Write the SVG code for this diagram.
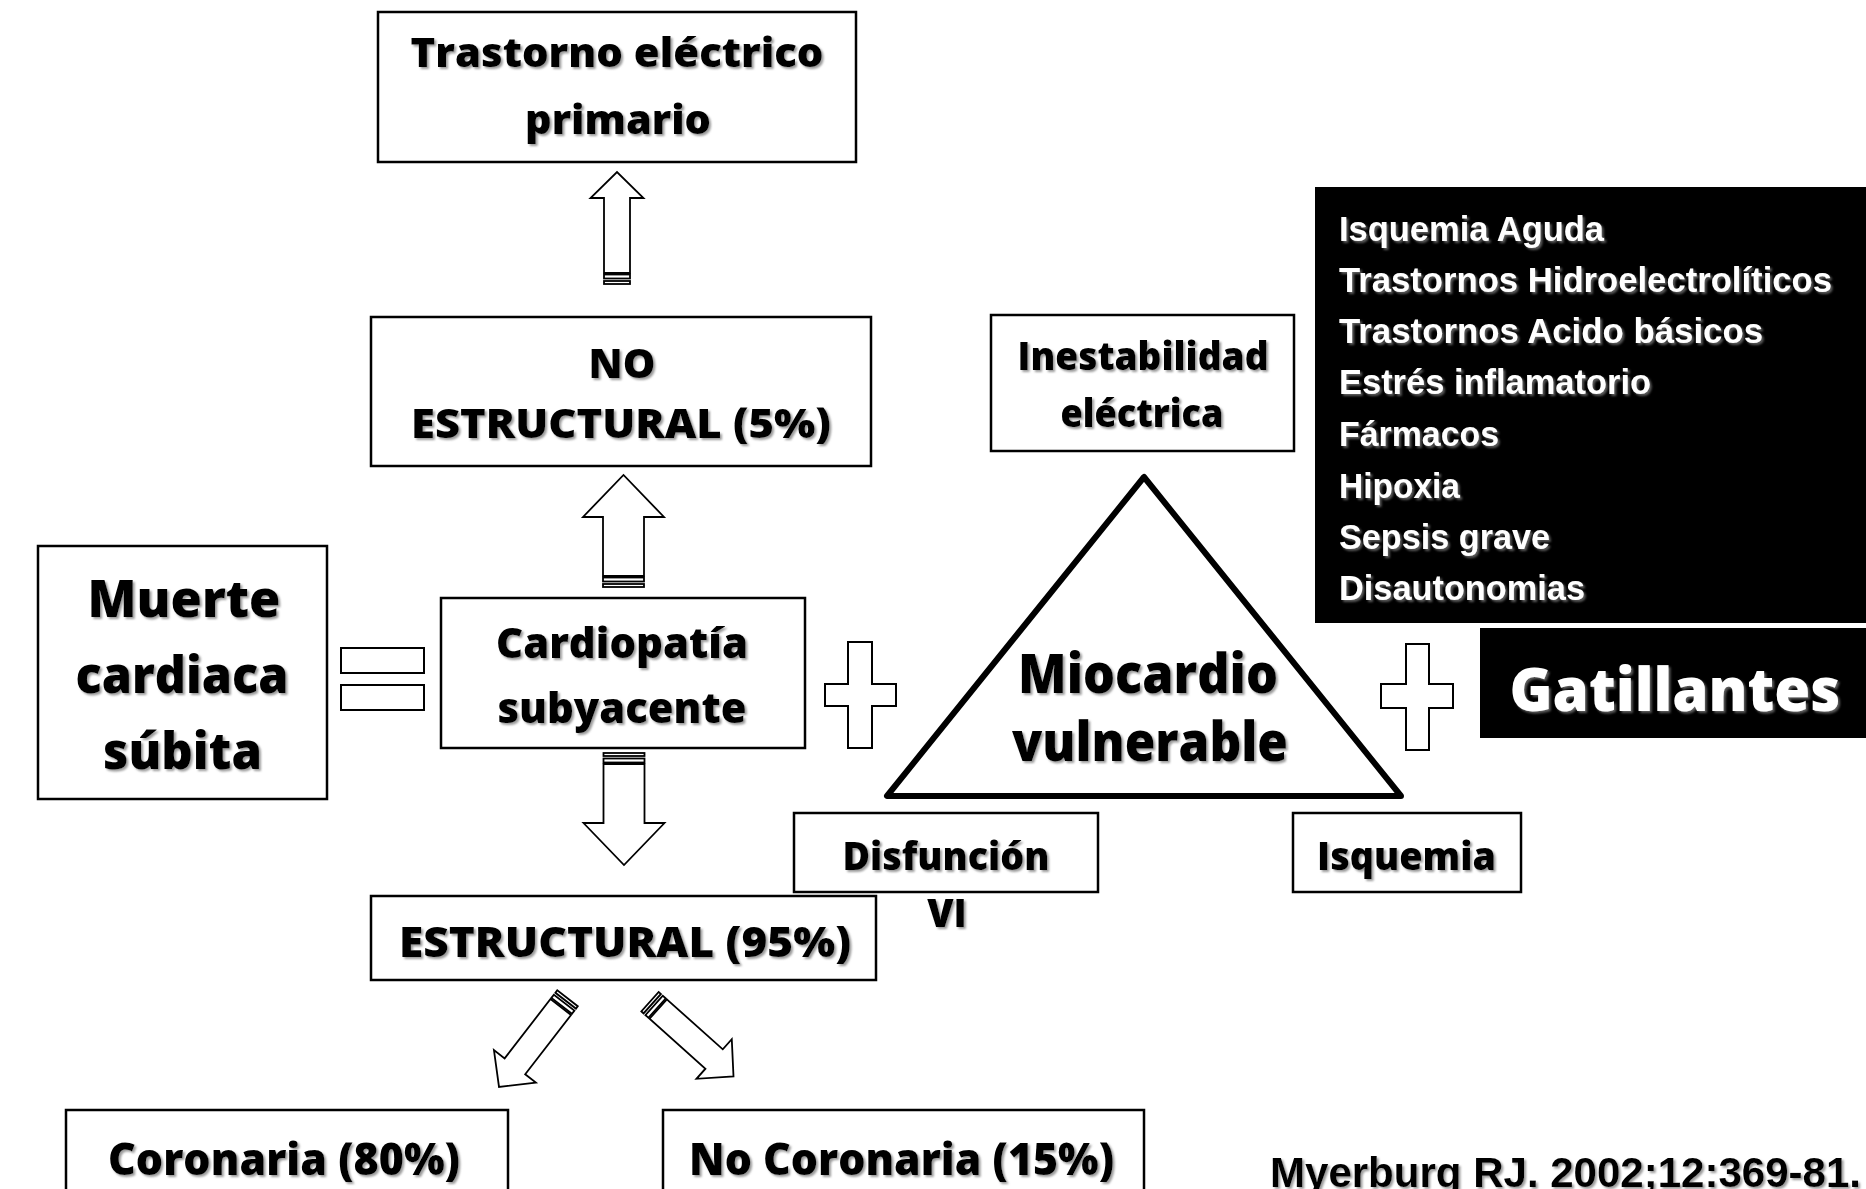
<svg xmlns="http://www.w3.org/2000/svg" xmlns:xlink="http://www.w3.org/1999/xlink" width="1866" height="1189" viewBox="0 0 1866 1189">
<defs>
<filter id="sh" x="-5%" y="-10%" width="110%" height="130%">
<feDropShadow dx="2" dy="2" stdDeviation="0.8" flood-color="#7a7a7a" flood-opacity="0.75"/>
</filter>
<g id="arrowSmall">
<rect x="0" y="-13" width="3" height="26"/>
<rect x="5.5" y="-13" width="4" height="26"/>
<path d="M11,-13 H86 V-26.5 L112,0 L86,26.5 V13 H11 Z"/>
</g>
<g id="arrowBig">
<rect x="0" y="-20.5" width="3" height="41"/>
<rect x="5.5" y="-20.5" width="4" height="41"/>
<path d="M11,-20.5 H70 V-40.5 L112,0 L70,40.5 V20.5 H11 Z"/>
</g>
</defs>
<style>
.box{fill:#fff;stroke:#000;stroke-width:2.5}
.blk{fill:#000;stroke:none}
.t{font-family:"Open Sans","Liberation Sans",sans-serif;font-weight:800;fill:#000;text-anchor:middle;filter:url(#sh)}
.w{font-family:"Liberation Sans",Arial,sans-serif;font-weight:700;fill:#fff;font-size:35px;filter:url(#sh)}
.cite{font-family:"Liberation Sans",Arial,sans-serif;font-weight:700;fill:#000;font-size:42px;filter:url(#sh)}
.arr{fill:#fff;stroke:#000;stroke-width:1.8;stroke-linejoin:miter}
.op{fill:#fff;stroke:#000;stroke-width:2}
.tri{fill:#fff;stroke:#000;stroke-width:6;stroke-linejoin:round}
</style>
<rect width="1866" height="1189" fill="#fff"/>

<g id="connectors" class="arr">
<use xlink:href="#arrowSmall" transform="translate(617,284) rotate(-90)"/>
<use xlink:href="#arrowBig" transform="translate(623.5,587) rotate(-90)"/>
<use xlink:href="#arrowBig" transform="translate(624,753) rotate(90)"/>
<use xlink:href="#arrowSmall" transform="translate(567.5,998.3) rotate(127.7)"/>
<use xlink:href="#arrowSmall" transform="translate(650,1001.7) rotate(41.8)"/>
</g>

<g id="node-trastorno">
<rect class="box" x="378" y="12" width="478" height="150"/>
<text class="t" x="617" y="67" font-size="41" textLength="413" lengthAdjust="spacingAndGlyphs">Trastorno eléctrico</text>
<text class="t" x="618" y="134" font-size="41" textLength="186" lengthAdjust="spacingAndGlyphs">primario</text>
</g>

<g id="node-no-estructural">
<rect class="box" x="371" y="317" width="500" height="149"/>
<text class="t" x="622" y="378" font-size="41">NO</text>
<text class="t" x="621" y="438" font-size="41" textLength="420" lengthAdjust="spacingAndGlyphs">ESTRUCTURAL (5%)</text>
</g>

<g id="node-muerte">
<rect class="box" x="38" y="546" width="289" height="253"/>
<text class="t" x="184" y="617" font-size="52" textLength="193" lengthAdjust="spacingAndGlyphs">Muerte</text>
<text class="t" x="182" y="693" font-size="52" textLength="213" lengthAdjust="spacingAndGlyphs">cardiaca</text>
<text class="t" x="182.5" y="769" font-size="52" textLength="159" lengthAdjust="spacingAndGlyphs">súbita</text>
</g>

<g id="op-equals" class="op">
<rect x="341" y="648" width="83" height="25"/>
<rect x="341" y="685" width="83" height="25"/>
</g>

<g id="node-cardiopatia">
<rect class="box" x="441" y="598" width="364" height="150"/>
<text class="t" x="622" y="658" font-size="43" textLength="252" lengthAdjust="spacingAndGlyphs">Cardiopatía</text>
<text class="t" x="622" y="723" font-size="43" textLength="249" lengthAdjust="spacingAndGlyphs">subyacente</text>
</g>

<g id="op-plus-1" class="op">
<path d="M848,642 H872 V684 H896 V706 H872 V748 H848 V706 H825 V684 H848 Z"/>
</g>

<g id="node-miocardio">
<polygon class="tri" points="1144,477 887,796 1401,796"/>
<text class="t" x="1148" y="693" font-size="55" textLength="260" lengthAdjust="spacingAndGlyphs">Miocardio</text>
<text class="t" x="1150" y="761" font-size="55" textLength="276" lengthAdjust="spacingAndGlyphs">vulnerable</text>
</g>

<g id="node-inestabilidad">
<rect class="box" x="991" y="315" width="303" height="136"/>
<text class="t" x="1143" y="370" font-size="38" textLength="251" lengthAdjust="spacingAndGlyphs">Inestabilidad</text>
<text class="t" x="1142" y="427" font-size="38" textLength="163" lengthAdjust="spacingAndGlyphs">eléctrica</text>
</g>

<g id="node-disfuncion">
<rect class="box" x="794" y="813" width="304" height="79"/>
<text class="t" x="946" y="870" font-size="38" textLength="207" lengthAdjust="spacingAndGlyphs">Disfunción</text>
<text class="t" x="947" y="927" font-size="38">VI</text>
</g>

<g id="node-isquemia">
<rect class="box" x="1293" y="813" width="228" height="79"/>
<text class="t" x="1406.5" y="870" font-size="38" textLength="179" lengthAdjust="spacingAndGlyphs">Isquemia</text>
</g>

<g id="op-plus-2" class="op">
<path d="M1406,644 H1429 V684 H1453 V708 H1429 V750 H1406 V708 H1381 V684 H1406 Z"/>
</g>

<g id="node-gatillantes-list">
<rect class="blk" x="1315" y="187" width="551" height="436"/>
<text class="w" x="1339" y="241" textLength="265" lengthAdjust="spacingAndGlyphs">Isquemia Aguda</text>
<text class="w" x="1339" y="292" textLength="493" lengthAdjust="spacingAndGlyphs">Trastornos Hidroelectrolíticos</text>
<text class="w" x="1339" y="343" textLength="424" lengthAdjust="spacingAndGlyphs">Trastornos Acido básicos</text>
<text class="w" x="1339" y="394" textLength="312" lengthAdjust="spacingAndGlyphs">Estrés inflamatorio</text>
<text class="w" x="1339" y="446" textLength="160" lengthAdjust="spacingAndGlyphs">Fármacos</text>
<text class="w" x="1339" y="498" textLength="121" lengthAdjust="spacingAndGlyphs">Hipoxia</text>
<text class="w" x="1339" y="549" textLength="211" lengthAdjust="spacingAndGlyphs">Sepsis grave</text>
<text class="w" x="1339" y="600" textLength="246" lengthAdjust="spacingAndGlyphs">Disautonomias</text>
</g>

<g id="node-gatillantes">
<rect class="blk" x="1480" y="628" width="386" height="110"/>
<text class="t" x="1675" y="711" font-size="60" style="fill:#fff" textLength="331" lengthAdjust="spacingAndGlyphs">Gatillantes</text>
</g>

<g id="node-estructural">
<rect class="box" x="371" y="896" width="505" height="84"/>
<text class="t" x="625" y="957" font-size="42" textLength="452" lengthAdjust="spacingAndGlyphs">ESTRUCTURAL (95%)</text>
</g>

<g id="node-coronaria">
<rect class="box" x="66" y="1110" width="442" height="100"/>
<text class="t" x="284" y="1175" font-size="44" textLength="352" lengthAdjust="spacingAndGlyphs">Coronaria (80%)</text>
</g>

<g id="node-no-coronaria">
<rect class="box" x="663" y="1110" width="481" height="100"/>
<text class="t" x="901.5" y="1175" font-size="44" textLength="425" lengthAdjust="spacingAndGlyphs">No Coronaria (15%)</text>
</g>

<g id="citation">
<text class="cite" x="1270" y="1187" textLength="591" lengthAdjust="spacingAndGlyphs">Myerburg RJ. 2002;12:369-81.</text>
</g>
</svg>
